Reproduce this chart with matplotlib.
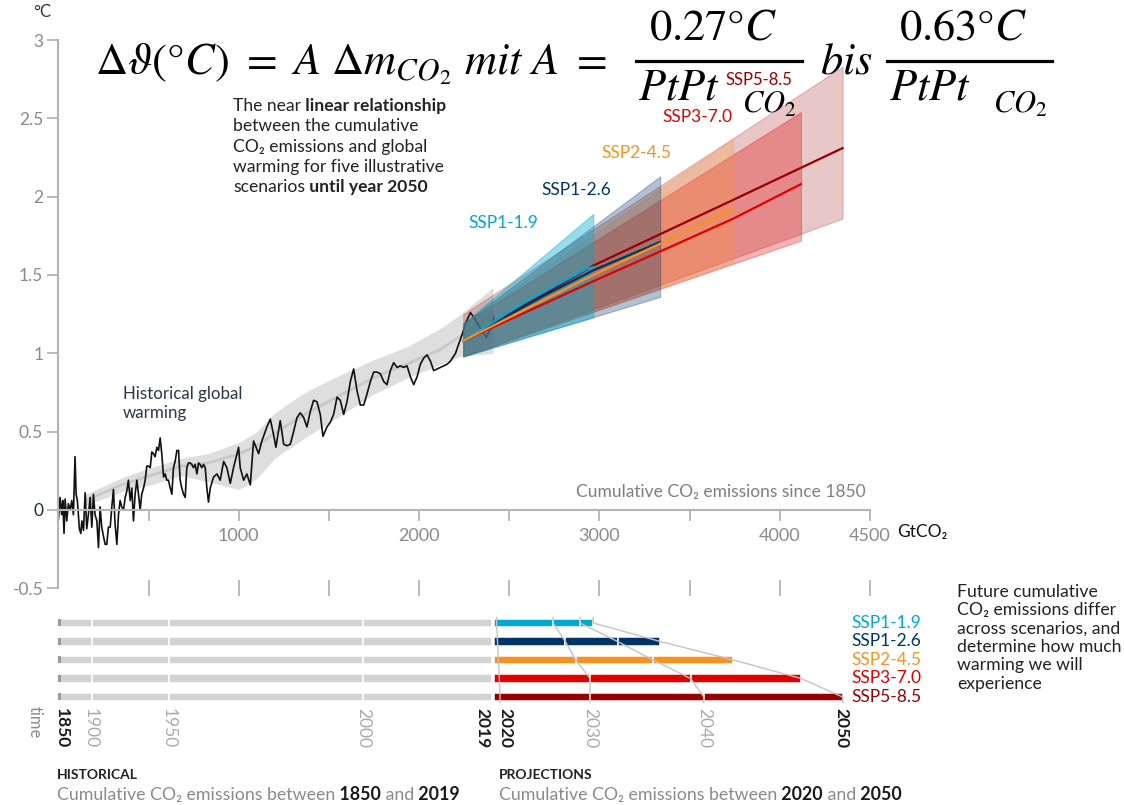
import numpy as np
import matplotlib
matplotlib.use('Agg')
import matplotlib.pyplot as plt
from matplotlib.lines import Line2D

plt.rcParams['font.family'] = ['Lato', 'DejaVu Sans']
plt.rcParams['axes.unicode_minus'] = False

# historical warming against cumulative CO2 since 1850 (GtCO2, degC)
hist_cum = [0, 9, 18, 24, 31, 37, 46, 55, 65, 74,
            83, 92, 98, 105, 116, 124, 130, 139, 148, 157,
            166, 176, 185, 194, 203, 213, 222, 231, 240, 250,
            259, 268, 277, 287, 296, 305, 314, 324, 333, 342,
            351, 361, 370, 379, 388, 398, 407, 416, 425, 435,
            444, 453, 462, 472, 481, 490, 499, 509, 518, 527,
            536, 546, 555, 564, 573, 583, 592, 601, 610, 620,
            629, 638, 647, 657, 666, 675, 684, 694, 703, 712,
            721, 731, 740, 749, 758, 768, 777, 786, 795, 805,
            814, 823, 832, 842, 860, 879, 897, 916, 934, 953,
            971, 990, 999, 1008, 1027, 1045, 1064, 1082, 1110, 1128,
            1156, 1175, 1193, 1206, 1217, 1230, 1249, 1267, 1286, 1304,
            1323, 1341, 1360, 1378, 1397, 1415, 1434, 1452, 1467, 1489,
            1508, 1526, 1545, 1563, 1582, 1600, 1619, 1637, 1656, 1674,
            1693, 1711, 1730, 1748, 1767, 1785, 1804, 1822, 1841, 1859,
            1878, 1896, 1915, 1933, 1952, 1970, 1989, 2007, 2026, 2044,
            2063, 2081, 2100, 2118, 2137, 2155, 2174, 2202, 2220, 2239,
            2257, 2285, 2303, 2340, 2374, 2396, 2414]
hist_temp = [-0.06, 0.08, -0.03, 0.06, -0.15, 0.07, -0.07, 0.04, 0.00, 0.06,
             -0.03, 0.34, 0.10, 0.06, -0.12, -0.15, -0.07, -0.13, 0.11, -0.12,
             -0.03, 0.08, -0.11, 0.10, -0.03, -0.07, -0.24, 0.02, -0.11, -0.17,
             -0.22, -0.22, -0.11, -0.11, 0.02, 0.13, -0.09, -0.22, -0.03, 0.06,
             0.02, 0.00, 0.08, 0.12, 0.19, 0.06, 0.14, -0.07, 0.10, 0.19,
             0.10, 0.00, 0.10, 0.14, 0.19, 0.28, 0.28, 0.27, 0.37, 0.36,
             0.34, 0.40, 0.38, 0.46, 0.36, 0.21, 0.23, 0.19, 0.19, 0.14,
             0.10, 0.27, 0.31, 0.38, 0.38, 0.19, 0.14, 0.10, 0.08, 0.27,
             0.30, 0.30, 0.29, 0.27, 0.29, 0.23, 0.30, 0.29, 0.27, 0.29,
             0.27, 0.14, 0.05, 0.14, 0.21, 0.23, 0.19, 0.31, 0.27, 0.17,
             0.27, 0.36, 0.40, 0.27, 0.19, 0.23, 0.16, 0.44, 0.36, 0.44,
             0.53, 0.58, 0.48, 0.40, 0.48, 0.57, 0.42, 0.41, 0.42, 0.50,
             0.59, 0.62, 0.59, 0.53, 0.63, 0.70, 0.69, 0.61, 0.47, 0.53,
             0.56, 0.61, 0.72, 0.70, 0.61, 0.69, 0.82, 0.90, 0.76, 0.67,
             0.67, 0.74, 0.82, 0.88, 0.88, 0.87, 0.82, 0.80, 0.89, 0.94,
             0.91, 0.92, 0.91, 0.92, 0.85, 0.80, 0.85, 0.93, 0.97, 0.99,
             0.95, 0.89, 0.90, 0.91, 0.92, 0.93, 0.95, 1.00, 1.06, 1.12,
             1.19, 1.26, 1.23, 1.16, 1.10, 1.16, 1.23]

# smoothed historical relationship with its range
band_cum = [150, 360, 510, 680, 830, 1000, 1100, 1200, 1380, 1560, 1750, 1930, 2120, 2230, 2410]
band_mid = [0.06, 0.165, 0.22, 0.28, 0.30, 0.357, 0.41, 0.49, 0.62, 0.73, 0.845, 0.93, 1.025, 1.11, 1.25]
band_lo = [0.03, 0.12, 0.16, 0.22, 0.18, 0.13, 0.20, 0.33, 0.47, 0.60, 0.74, 0.84, 0.93, 0.98, 1.00]
band_hi = [0.10, 0.21, 0.27, 0.33, 0.36, 0.43, 0.50, 0.62, 0.76, 0.86, 0.96, 1.04, 1.16, 1.25, 1.42]

scenarios = ['SSP1-1.9', 'SSP1-2.6', 'SSP2-4.5', 'SSP3-7.0', 'SSP5-8.5']
colors = ['#00A9CF', '#003466', '#F69320', '#DF0000', '#980002']

# projected ranges up to 2050
fan_start = 2245
fan_end = [2966, 3337, 3743, 4118, 4349]
fan_lo_start = 0.98
fan_lo_end = [1.23, 1.36, 1.58, 1.72, 1.86]
fan_hi_start = [1.19, 1.19, 1.19, 1.19, 1.25]
fan_hi_end = [1.89, 2.13, 2.37, 2.54, 2.83]

center_x = [[2245, 2577, 2930, 2966],
            [2245, 2680, 2966, 3337],
            [2245, 2966, 3337, 3743],
            [2245, 2966, 3337, 3743, 4118],
            [2245, 2966, 3743, 4349]]
center_y = [[1.08, 1.32, 1.54, 1.55],
            [1.08, 1.36, 1.53, 1.71],
            [1.08, 1.50, 1.70, 1.92],
            [1.08, 1.46, 1.65, 1.86, 2.08],
            [1.08, 1.56, 1.98, 2.31]]

# timeline: cumulative emissions reached at given years
hist_years = [1850, 1900, 1950, 2000, 2019]
hist_years_cum = [0, 186, 613, 1689, 2405]
proj_start = 2415
proj_2020 = [2430, 2435, 2440, 2445, 2449]
proj_2030 = [2743, 2811, 2869, 2948, 2948]
proj_2040 = [2892, 3101, 3297, 3506, 3579]
proj_2050 = [2966, 3337, 3743, 4118, 4349]

xticks = [500, 1000, 1500, 2000, 2500, 3000, 3500, 4000, 4500]
xtick_labels = ['', '1000', '', '2000', '', '3000', '', '4000', '4500']
yticks = [-0.5, 0, 0.5, 1, 1.5, 2, 2.5, 3]
ytick_labels = ['-0.5', '0', '0.5', '1', '1.5', '2', '2.5', '3']

GREY = '#8a8a8a'
LIGHT = '#aaaaaa'
AXIS = '#b4b4b4'
DARK = '#222222'
W, H = 1124, 805

fig = plt.figure(figsize=(11.24, 8.05), dpi=100)
ax = fig.add_axes([0.0520, 0.2692, 0.7219, 0.6811])
ax.set_xlim(0, 4500)
ax.set_ylim(-0.5, 3)

ax.fill_between(band_cum, band_lo, band_hi, color='#dedede', lw=0, zorder=1)
ax.plot(band_cum, band_mid, color='#c8c8c8', lw=2, zorder=1.5)
ax.plot(hist_cum, hist_temp, color='#111111', lw=1.2, zorder=2)

fan_alpha = [0.4, 0.3, 0.24, 0.3, 0.22]
for i in reversed(range(5)):
    ax.fill_between([fan_start, fan_end[i]], [fan_lo_start, fan_lo_end[i]],
                    [fan_hi_start[i], fan_hi_end[i]], facecolor=colors[i],
                    edgecolor=colors[i], alpha=fan_alpha[i], lw=0.8, zorder=3)
for i in [4, 3, 1, 0, 2]:
    ax.plot(center_x[i], center_y[i], color=colors[i], lw=1.6, zorder=4)

label_pos = [(2465, 1.835), (2870, 2.045), (3203, 2.28), (3541, 2.51), (3885, 2.745)]
for i, (lx, ly) in enumerate(label_pos):
    ax.text(lx, ly, scenarios[i], color=colors[i], ha='center', va='center',
            fontsize=12 if i == 4 else 12.5, zorder=5)

for s in ['top', 'right']:
    ax.spines[s].set_visible(False)
ax.spines['left'].set_color(AXIS)
ax.spines['left'].set_linewidth(1.5)
ax.spines['bottom'].set_position(('data', 0))
ax.spines['bottom'].set_color(AXIS)
ax.spines['bottom'].set_linewidth(1.5)
ax.set_xticks(xticks)
ax.set_xticklabels(xtick_labels)
ax.set_yticks(yticks)
ax.set_yticklabels(ytick_labels)
ax.tick_params(axis='x', colors=AXIS, labelcolor=GREY, length=8, width=1.3, pad=5, labelsize=13)
ax.tick_params(axis='y', colors=AXIS, labelcolor=GREY, length=8, width=1.3, pad=3, labelsize=12.5)
ax.get_yticklabels()[1].set_color('#1c2b3a')

sec = ax.secondary_xaxis(0.0)
sec.set_xticks(xticks)
sec.tick_params(direction='inout', length=11, width=1.3, colors=AXIS, labelbottom=False)
sec.spines['bottom'].set_visible(False)

ax.text(4478, 0.115, 'Cumulative CO₂ emissions since 1850', color='#7f7f7f',
        ha='right', va='center', fontsize=12.5)
ax.text(4651, -0.14, 'GtCO₂', color='#111111', ha='left', va='center', fontsize=12.5, clip_on=False)
ax.text(358, 0.79, 'Historical global\nwarming', color='#2b3645', ha='left', va='top', fontsize=12.2)
fig.text(42 / W, 1 - 12 / H, '°C', color='#333333', ha='center', va='center', fontsize=12)


def rich_line(x, y, parts, size):
    s, c, w = parts[0]
    t = fig.text(x, y, s, color=c, weight=w, fontsize=size, va='center')
    for s, c, w in parts[1:]:
        t = ax.annotate(s, xy=(1, 0), xycoords=t, va='bottom', color=c, weight=w, fontsize=size)


note = [[('The near', DARK, 'normal'), (' linear relationship', DARK, 'bold')],
        [('between the cumulative', DARK, 'normal')],
        [('CO₂ emissions and global', DARK, 'normal')],
        [('warming for five illustrative', DARK, 'normal')],
        [('scenarios', DARK, 'normal'), (' until year 2050', DARK, 'bold')]]
for k, parts in enumerate(note):
    rich_line(233 / W, 1 - (106 + 20.3 * k) / H, parts, 12.6)


# formula, set piece by piece like the slide
def eq_text(px, py, s, size=32, ha='left'):
    fig.text(px / W, 1 - py / H, s, fontsize=size, math_fontfamily='stix',
             color='black', ha=ha, va='baseline')


eq_text(95, 75, r'$\Delta\vartheta(°C)\ =\ A\ \Delta m_{CO_2}\ mit\ A\ =$')
for left, right, num in [(636, 802, '0.27°C'), (887, 1052, '0.63°C')]:
    fig.add_artist(Line2D([left / W, right / W], [1 - 61 / H] * 2,
                          transform=fig.transFigure, color='black', lw=2.3))
    eq_text((left + right) / 2 - 6, 40, '$' + num + '$', ha='center')
    eq_text(left + 2, 100, r'$PtPt$')
    eq_text(left + 106, 113, r'$CO_2$', size=22)
eq_text(820, 74, r'$bis$')

# timeline panel
tl = fig.add_axes([0.0520, 0.1227, 0.7219, 0.1149])
tl.set_xlim(0, 4500)
tl.set_ylim(4.5, -0.5)
tl.axis('off')

for row in range(5):
    tl.barh(row, np.diff(hist_years_cum), left=hist_years_cum[:-1], height=0.48,
            color='#d3d3d3', edgecolor='white', lw=1.1, zorder=2)
    tl.barh(row, 14, left=0, height=0.38, color='#9a9a9a', lw=0, zorder=2.5)
    edges = [proj_start, proj_2030[row], proj_2040[row], proj_2050[row]]
    tl.barh(row, np.diff(edges), left=edges[:-1], height=0.48,
            color=colors[row], edgecolor='white', lw=1.1, zorder=2)
    tl.text(4395, row, scenarios[row], color=colors[row], ha='left', va='center', fontsize=12.5)

rows = list(range(5))
for vals in [proj_2020, proj_2030, proj_2040, proj_2050]:
    tl.plot([vals[0]] + vals + [vals[-1]], [-0.3] + rows + [4.3], color='#c4c4c4', lw=1, zorder=3)

year_marks = [(hist_years[0], hist_years_cum[0], 'center', 2.3, True),
              (hist_years[1], hist_years_cum[1], 'center', -1.0, False),
              (hist_years[2], hist_years_cum[2], 'center', 0, False),
              (hist_years[3], hist_years_cum[3], 'center', 0, False),
              (hist_years[4], hist_years_cum[4], 'right', -1.5, True),
              (2020, proj_start, 'left', 2.5, True),
              (2030, proj_2030[-1], 'center', 0, False),
              (2040, proj_2040[-1], 'center', 0, False),
              (2050, proj_2050[-1], 'center', -1, True)]
for yr, xv, ha, dx, strong in year_marks:
    tl.annotate(str(yr), xy=(xv, 4.5), xytext=(dx, -1), textcoords='offset points',
                rotation=-90, ha=ha, va='top', fontsize=12.5,
                color='#1a1a1a' if strong else LIGHT, weight='bold' if strong else 'normal')
fig.text(35 / W, 1 - 706 / H, 'time', rotation=-90, ha='center', va='top',
         color=GREY, fontsize=12)

fig.text(957 / W, 1 - 584 / H,
         'Future cumulative\nCO₂ emissions differ\nacross scenarios, and\n'
         'determine how much\nwarming we will\nexperience',
         color=DARK, ha='left', va='top', fontsize=12.7, linespacing=1.18)

fig.text(57 / W, 1 - 775 / H, 'HISTORICAL', color=DARK, weight='bold', va='center', fontsize=10)
fig.text(499 / W, 1 - 775 / H, 'PROJECTIONS', color=DARK, weight='bold', va='center', fontsize=10)
rich_line(57 / W, 1 - 795 / H,
          [('Cumulative CO₂ emissions between', GREY, 'normal'), (' 1850', '#1a1a1a', 'bold'),
           (' and', GREY, 'normal'), (' 2019', '#1a1a1a', 'bold')], 12.8)
rich_line(499 / W, 1 - 795 / H,
          [('Cumulative CO₂ emissions between', GREY, 'normal'), (' 2020', '#1a1a1a', 'bold'),
           (' and', GREY, 'normal'), (' 2050', '#1a1a1a', 'bold')], 12.8)

fig.savefig('out.png', dpi=100)
